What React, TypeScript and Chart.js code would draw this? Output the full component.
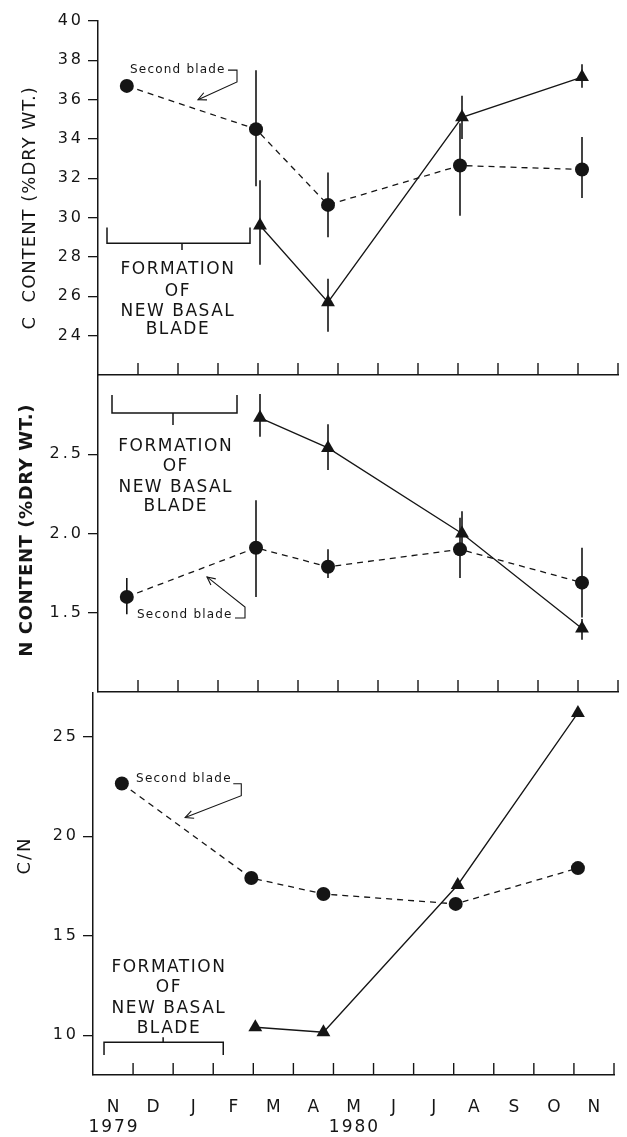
import React, { useEffect, useRef } from "react";
import { Chart, registerables } from "chart.js";

Chart.register(...registerables);

const FONT = "'DejaVu Sans', 'Liberation Sans', sans-serif";
const INK = "#151515";

// x values are months elapsed since 1 November 1979
const MONTH_LABELS = ["N", "D", "J", "F", "M", "A", "M", "J", "J", "A", "S", "O", "N"];
const YEAR_LABELS = ["1979", "1980"];
const YEAR_MONTH_INDEX = [0, 6];

const secondBladeMonths = [0.72, 3.95, 5.75, 9.05, 12.1];
const basalBladeMonths = [4.05, 5.75, 9.1, 12.1];

// C content (% dry wt.)
const cSecond = [36.7, 34.5, 30.65, 32.65, 32.45];
const cSecondLow = [null, 31.6, 29.0, 30.1, 31.0];
const cSecondHigh = [null, 37.5, 32.3, 34.8, 34.1];
const cBasal = [29.6, 25.7, 35.1, 37.15];
const cBasalLow = [27.6, 24.2, 34.0, 36.6];
const cBasalHigh = [31.9, 26.9, 36.2, 37.8];

// N content (% dry wt.)
const nSecond = [1.6, 1.91, 1.79, 1.9, 1.69];
const nSecondLow = [1.49, 1.6, 1.72, 1.72, 1.47];
const nSecondHigh = [1.72, 2.21, 1.9, 2.1, 1.91];
const nBasal = [2.73, 2.54, 2.0, 1.4];
const nBasalLow = [2.61, 2.4, 1.9, 1.33];
const nBasalHigh = [2.88, 2.69, 2.14, 1.46];

// C/N ratio
const cnSecond = [22.65, 17.9, 17.1, 16.6, 18.4];
const cnBasal = [10.4, 10.15, 17.55, 26.2];

// y tick values and labels
const cTicks = [24, 26, 28, 30, 32, 34, 36, 38, 40];
const cTickLabels = ["24", "26", "28", "30", "32", "34", "36", "38", "40"];
const nTicks = [1.5, 2.0, 2.5];
const nTickLabels = ["1.5", "2.0", "2.5"];
const cnTicks = [10, 15, 20, 25];
const cnTickLabels = ["10", "15", "20", "25"];

const FORMATION_LINES = ["FORMATION", "OF", "NEW BASAL", "BLADE"];
const SECOND_BLADE_TEXT = "Second blade";

type Pt = [number, number];

interface PanelCfg {
  box: { left: number; right: number; top: number; bottom: number };
  yMin: number;
  yMax: number;
  ticks: number[];
  tickLabels: string[];
  second: number[];
  secondLow: (number | null)[] | null;
  secondHigh: (number | null)[] | null;
  basal: number[];
  basalLow: number[] | null;
  basalHigh: number[] | null;
  title: string;
  titleX: number;
  titleY: number; // data value at title centre
  titleBold: boolean;
  titleSpacing: number;
  bladeText: Pt;
  bladeHook: Pt[];
  bladeArrow: Pt;
  formTextX: number;
  formTextY: number[];
  bracket: { x0: number; x1: number; y: number; endY: number; midX: number; midY: number };
  months: boolean;
}

const panels: PanelCfg[] = [
  {
    box: { left: 98, right: 618, top: 21, bottom: 375 },
    yMin: 22,
    yMax: 40,
    ticks: cTicks,
    tickLabels: cTickLabels,
    second: cSecond,
    secondLow: cSecondLow,
    secondHigh: cSecondHigh,
    basal: cBasal,
    basalLow: cBasalLow,
    basalHigh: cBasalHigh,
    title: "C  CONTENT (%DRY WT.)",
    titleX: 30,
    titleY: 30.5,
    titleBold: false,
    titleSpacing: 1,
    bladeText: [0.8, 37.5],
    bladeHook: [[3.25, 37.5], [3.475, 37.5], [3.475, 36.9]],
    bladeArrow: [2.5, 36.0],
    formTextX: 1.98,
    formTextY: [27.35, 26.23, 25.2, 24.3],
    bracket: { x0: 0.225, x1: 3.8, y: 28.7, endY: 29.5, midX: 2.1, midY: 28.35 },
    months: false,
  },
  {
    box: { left: 98, right: 618, top: 375, bottom: 692 },
    yMin: 1.0,
    yMax: 3.0,
    ticks: nTicks,
    tickLabels: nTickLabels,
    second: nSecond,
    secondLow: nSecondLow,
    secondHigh: nSecondHigh,
    basal: nBasal,
    basalLow: nBasalLow,
    basalHigh: nBasalHigh,
    title: "N CONTENT (%DRY WT.)",
    titleX: 27,
    titleY: 2.02,
    titleBold: true,
    titleSpacing: 0.6,
    bladeText: [0.975, 1.486],
    bladeHook: [[3.425, 1.467], [3.675, 1.467], [3.675, 1.536]],
    bladeArrow: [2.725, 1.726],
    formTextX: 1.925,
    formTextY: [2.546, 2.42, 2.287, 2.167],
    bracket: { x0: 0.35, x1: 3.475, y: 2.76, endY: 2.874, midX: 1.875, midY: 2.685 },
    months: false,
  },
  {
    box: { left: 93, right: 614, top: 693, bottom: 1075 },
    yMin: 8,
    yMax: 27.2,
    ticks: cnTicks,
    tickLabels: cnTickLabels,
    second: cnSecond,
    secondLow: null,
    secondHigh: null,
    basal: cnBasal,
    basalLow: null,
    basalHigh: null,
    title: "C/N",
    titleX: 25,
    titleY: 19.03,
    titleBold: false,
    titleSpacing: 2,
    bladeText: [1.075, 22.9],
    bladeHook: [[3.5, 22.64], [3.7, 22.64], [3.7, 22.04]],
    bladeArrow: [2.3, 20.94],
    formTextX: 1.875,
    formTextY: [13.41, 12.41, 11.35, 10.35],
    bracket: { x0: 0.275, x1: 3.25, y: 9.65, endY: 9.0, midX: 1.75, midY: 9.9 },
    months: true,
  },
];

const W = 627;
const H = 1137;
const Y_AXIS_W = 60;

function makeDecor(p: PanelCfg) {
  return {
    id: "panelDecor",
    beforeDraw(chart: any) {
      (chart.ctx as any).letterSpacing = "3px";
    },
    beforeDatasetsDraw(chart: any) {
      const ctx = chart.ctx as CanvasRenderingContext2D;
      const xs = chart.scales.x;
      const ys = chart.scales.y;
      ctx.save();
      ctx.strokeStyle = INK;
      ctx.lineWidth = 1.6;
      const bars = (months: number[], lo: (number | null)[] | null, hi: (number | null)[] | null) => {
        if (!lo || !hi) return;
        months.forEach((m, i) => {
          const l = lo[i];
          const h = hi[i];
          if (l == null || h == null) return;
          const x = xs.getPixelForValue(m);
          ctx.beginPath();
          ctx.moveTo(x, ys.getPixelForValue(l));
          ctx.lineTo(x, ys.getPixelForValue(h));
          ctx.stroke();
        });
      };
      bars(secondBladeMonths, p.secondLow, p.secondHigh);
      bars(basalBladeMonths, p.basalLow, p.basalHigh);
      ctx.restore();
    },
    afterDraw(chart: any) {
      const ctx = chart.ctx as any;
      const xs = chart.scales.x;
      const ys = chart.scales.y;
      const area = chart.chartArea;
      const X = (v: number) => xs.getPixelForValue(v);
      const Y = (v: number) => ys.getPixelForValue(v);
      ctx.save();
      ctx.letterSpacing = "0px";
      ctx.strokeStyle = INK;
      ctx.fillStyle = INK;

      // upward month-boundary ticks on the bottom axis
      ctx.lineWidth = 1.4;
      for (let m = 1; m <= MONTH_LABELS.length; m++) {
        const x = X(m);
        ctx.beginPath();
        ctx.moveTo(x, area.bottom);
        ctx.lineTo(x, area.bottom - 12);
        ctx.stroke();
      }

      // "Second blade" label with hook and arrow
      ctx.font = `12px ${FONT}`;
      ctx.letterSpacing = "1.2px";
      ctx.textAlign = "left";
      ctx.textBaseline = "middle";
      ctx.fillText(SECOND_BLADE_TEXT, X(p.bladeText[0]), Y(p.bladeText[1]));
      ctx.lineWidth = 1.1;
      ctx.beginPath();
      p.bladeHook.forEach((pt, i) => {
        if (i === 0) ctx.moveTo(X(pt[0]), Y(pt[1]));
        else ctx.lineTo(X(pt[0]), Y(pt[1]));
      });
      const last = p.bladeHook[p.bladeHook.length - 1];
      const ax = X(p.bladeArrow[0]);
      const ay = Y(p.bladeArrow[1]);
      ctx.lineTo(ax, ay);
      ctx.stroke();
      const ang = Math.atan2(Y(last[1]) - ay, X(last[0]) - ax);
      ctx.beginPath();
      ctx.moveTo(ax + 9 * Math.cos(ang + 0.45), ay + 9 * Math.sin(ang + 0.45));
      ctx.lineTo(ax, ay);
      ctx.lineTo(ax + 9 * Math.cos(ang - 0.45), ay + 9 * Math.sin(ang - 0.45));
      ctx.stroke();

      // formation bracket
      const b = p.bracket;
      ctx.lineWidth = 1.5;
      ctx.beginPath();
      ctx.moveTo(X(b.x0), Y(b.endY));
      ctx.lineTo(X(b.x0), Y(b.y));
      ctx.lineTo(X(b.x1), Y(b.y));
      ctx.lineTo(X(b.x1), Y(b.endY));
      ctx.moveTo(X(b.midX), Y(b.y));
      ctx.lineTo(X(b.midX), Y(b.midY));
      ctx.stroke();

      // formation text
      ctx.font = `17px ${FONT}`;
      ctx.letterSpacing = "1.5px";
      ctx.textAlign = "center";
      FORMATION_LINES.forEach((t, i) => {
        ctx.fillText(t, X(p.formTextX) + 0.75, Y(p.formTextY[i]));
      });

      // y axis title
      ctx.save();
      ctx.font = `${p.titleBold ? "bold " : ""}18px ${FONT}`;
      ctx.letterSpacing = `${p.titleSpacing}px`;
      ctx.translate(p.titleX, Y(p.titleY));
      ctx.rotate(-Math.PI / 2);
      ctx.textAlign = "center";
      ctx.textBaseline = "middle";
      ctx.fillText(p.title, 0, 0);
      ctx.restore();

      // month and year labels
      if (p.months) {
        ctx.font = `17px ${FONT}`;
        ctx.letterSpacing = "2px";
        ctx.textAlign = "center";
        ctx.textBaseline = "middle";
        MONTH_LABELS.forEach((t, i) => {
          ctx.fillText(t, X(i + 0.5) + 1, area.bottom + 33);
        });
        YEAR_LABELS.forEach((t, i) => {
          ctx.fillText(t, X(YEAR_MONTH_INDEX[i] + 0.5) + 1, area.bottom + 53);
        });
      }
      ctx.restore();
      ctx.letterSpacing = "0px";
    },
  };
}

function Panel({ p }: { p: PanelCfg }) {
  const ref = useRef<HTMLCanvasElement | null>(null);
  useEffect(() => {
    if (!ref.current) return;
    const chart = new Chart(ref.current, {
      type: "line",
      data: {
        datasets: [
          {
            label: "Second blade",
            data: secondBladeMonths.map((m, i) => ({ x: m, y: p.second[i] })),
            borderColor: INK,
            borderWidth: 1.3,
            borderDash: [6, 5],
            pointStyle: "circle",
            pointRadius: 7,
            pointBackgroundColor: INK,
            pointBorderWidth: 0,
            tension: 0,
          },
          {
            label: "New basal blade",
            data: basalBladeMonths.map((m, i) => ({ x: m, y: p.basal[i] })),
            borderColor: INK,
            borderWidth: 1.3,
            pointStyle: "triangle",
            pointRadius: 8,
            pointBackgroundColor: INK,
            pointBorderWidth: 0,
            tension: 0,
          },
        ],
      },
      options: {
        responsive: false,
        animation: false,
        events: [],
        clip: false as any,
        layout: {
          padding: {
            left: p.box.left - Y_AXIS_W,
            right: W - p.box.right,
            top: p.box.top,
            bottom: H - p.box.bottom,
          },
        },
        plugins: { legend: { display: false }, tooltip: { enabled: false } },
        scales: {
          x: {
            type: "linear",
            min: 0,
            max: 13,
            grid: { display: false },
            ticks: { display: false },
            border: { display: true, color: INK, width: 1.5 },
            afterFit: (s: any) => {
              s.height = 0;
            },
          },
          y: {
            type: "linear",
            min: p.yMin,
            max: p.yMax,
            afterFit: (s: any) => {
              s.width = Y_AXIS_W;
            },
            afterBuildTicks: (s: any) => {
              s.ticks = p.ticks.map((v) => ({ value: v }));
            },
            ticks: {
              callback: (_v: any, i: number) => p.tickLabels[i],
              color: INK,
              font: { family: FONT, size: 16 },
              padding: 4,
            },
            grid: {
              display: true,
              drawOnChartArea: false,
              drawTicks: true,
              tickLength: 10,
              color: INK,
              lineWidth: 1.3,
            },
            border: { display: true, color: INK, width: 1.5 },
          },
        },
      } as any,
      plugins: [makeDecor(p)],
    });
    return () => chart.destroy();
  }, [p]);
  return (
    <canvas
      ref={ref}
      width={W}
      height={H}
      style={{ position: "absolute", left: 0, top: 0, width: W, height: H }}
    />
  );
}

export default function App() {
  return (
    <div style={{ position: "absolute", left: 0, top: 0, width: W, height: H, background: "#fff" }}>
      {panels.map((p, i) => (
        <Panel key={i} p={p} />
      ))}
    </div>
  );
}
